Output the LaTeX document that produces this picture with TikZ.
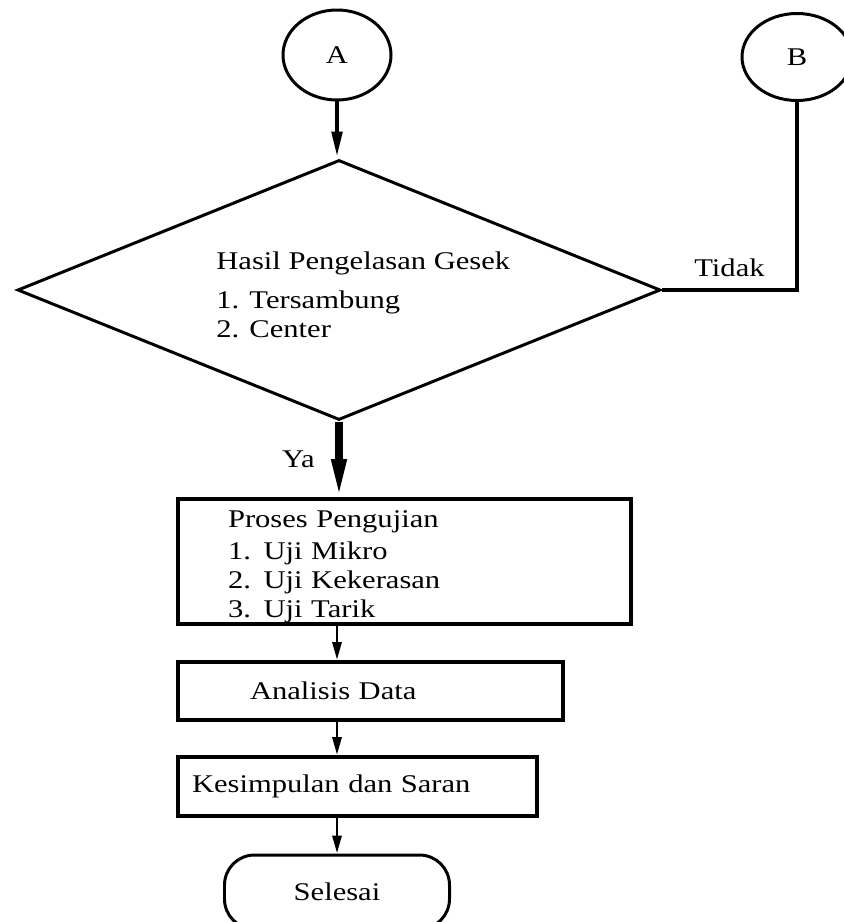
\documentclass[tikz,border=0pt]{standalone}
\usepackage{fontspec}
\setmainfont{Liberation Serif}[FakeStretch=1.2]
\usetikzlibrary{arrows.meta,shapes.geometric}

\begin{document}
\begin{tikzpicture}[x=.2mm,y=-.2mm,
  font=\fontsize{14.5}{16.5}\selectfont,
  konektor/.style={ellipse,draw,line width=1.7pt,inner sep=0pt},
  kotak/.style={rectangle,draw,line width=2.2pt,align=left,inner ysep=0pt},
  panah/.style={-{Triangle[length=3.6mm,width=1.8mm]},line width=1.7pt}]
  \useasboundingbox[fill=white] (0,0) rectangle (844,922);
  % konektor halaman
  \node[konektor,minimum width=21.6mm,minimum height=18mm] (A) at (337,55) {A};
  \node[konektor,minimum width=22mm,minimum height=17.4mm] (B) at (797,57) {B};
  % keputusan
  \node[diamond,draw,line width=1.7pt,inner sep=0pt,
    minimum width=128.6mm,minimum height=52mm] (cek) at (339,290) {};
  \node[align=left,anchor=north west,inner sep=0pt] (cektxt) at (216,251)
    {Hasil Pengelasan Gesek\\[2mm]1. Tersambung\\2. Center};
  % proses
  \node[kotak,text width=70.6mm,inner xsep=10mm,minimum height=25mm] (uji)
    at (404.5,561.5) {\rule{0pt}{5.5mm}Proses Pengujian\\[1.5pt]1. Uji Mikro\\2. Uji Kekerasan\\3. Uji Tarik};
  \node[kotak,text width=48.2mm,inner xsep=14.4mm,minimum height=11.6mm] (analisis)
    at (370.5,691) {Analisis Data};
  \node[kotak,text width=66.2mm,inner xsep=2.8mm,minimum height=11.8mm] (simpul)
    at (357.5,786.5) {Kesimpulan dan Saran};
  \node[rectangle,rounded corners=6mm,draw,line width=1.7pt,
    minimum width=45mm,minimum height=14.8mm] (selesai) at (337,892) {Selesai};
  % alur
  \draw[line width=2.8pt,-{Triangle[length=5.4mm,width=2mm]}]
    (A.south) -- (A.south |- cek.north);
  \draw[line width=2.2pt] (B.south) |- (cek.east) node[pos=.75,above=1mm]{Tidak};
  \draw[line width=4pt,-{Triangle[length=7.6mm,width=2.8mm]}]
    (cek.south) -- (cek.south |- uji.north) node[midway,left=3mm]{Ya};
  \foreach \a/\b in {uji/analisis,analisis/simpul,simpul/selesai}
    \draw[panah] (\a.south -| A.south) -- (\b.north -| A.south);
\end{tikzpicture}
\end{document}
